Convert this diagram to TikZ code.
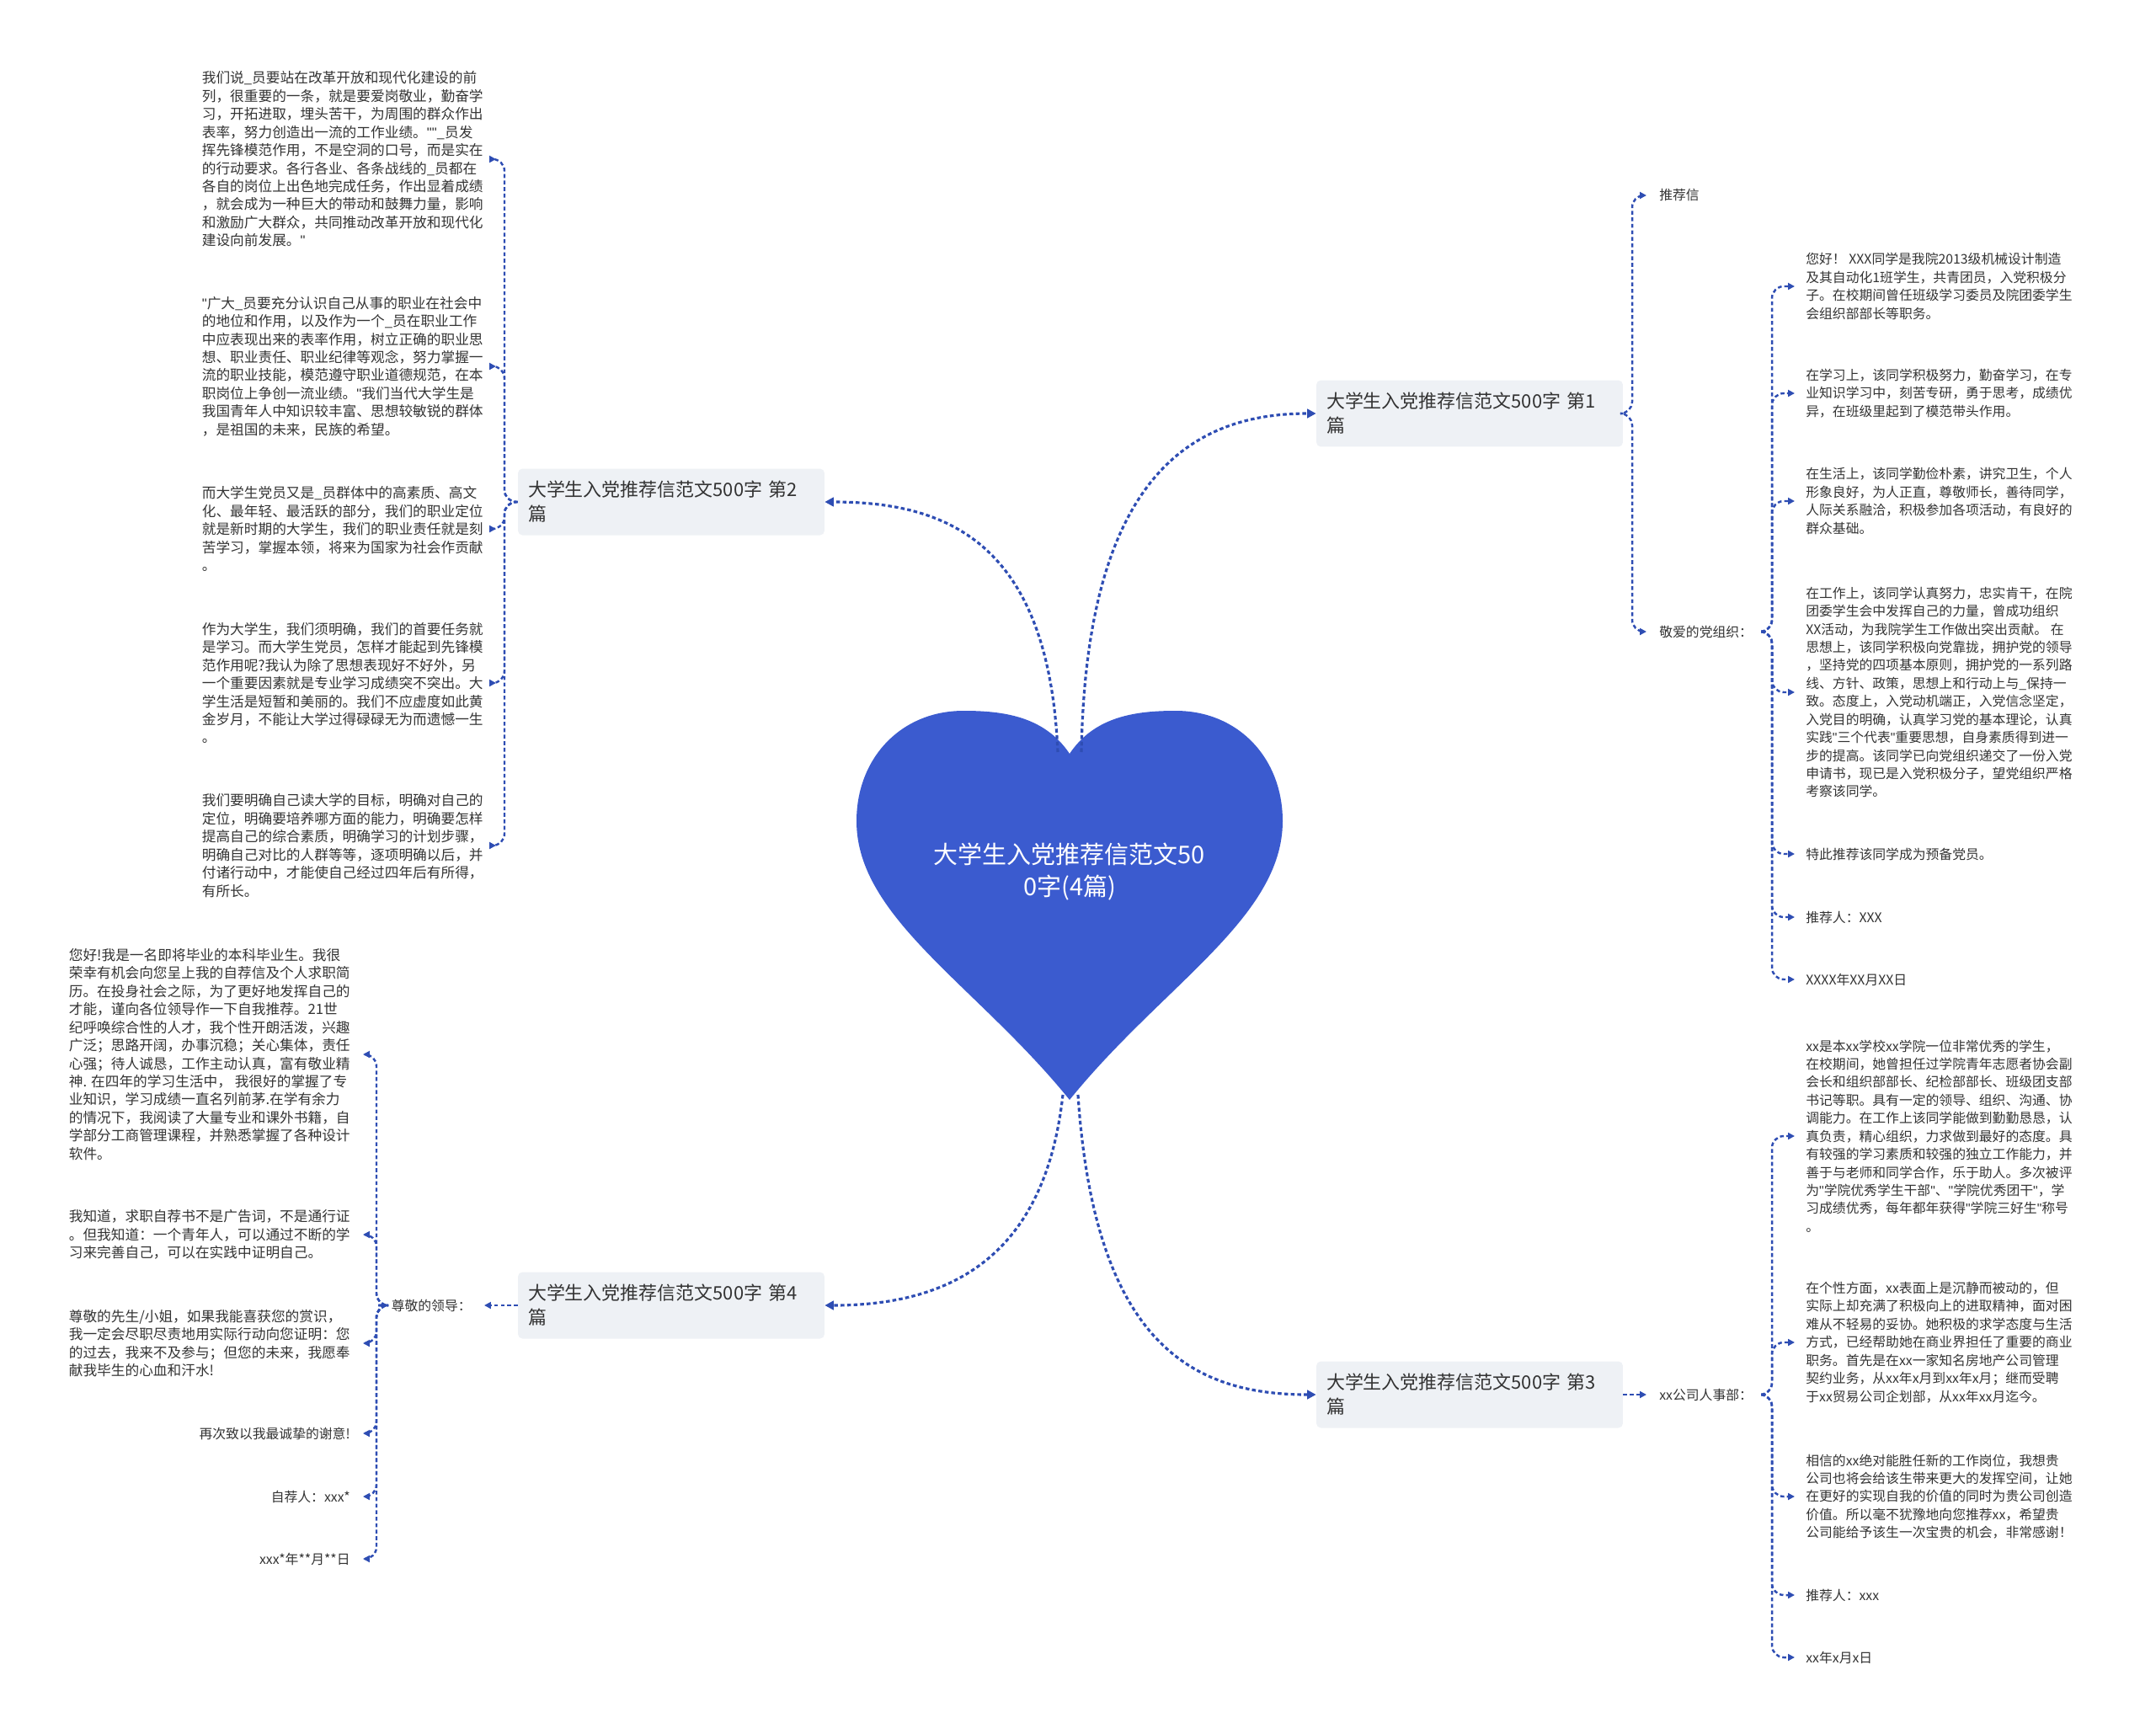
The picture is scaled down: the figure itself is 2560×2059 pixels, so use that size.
\documentclass[tikz,border=0pt]{standalone}
\usepackage{fontspec}
\setmainfont{Noto Sans CJK SC}
\newfontfamily\qfont{Liberation Sans}
\newcommand\dq{{\qfont"}}
\usetikzlibrary{arrows.meta}

\definecolor{heartblue}{HTML}{3B5BCF}
\definecolor{linkblue}{HTML}{2E4DB3}
\definecolor{boxgray}{HTML}{EEF1F5}
\definecolor{txtgray}{HTML}{333333}

\begin{document}
\begin{tikzpicture}[
    x=0.02cm, y=-0.02cm,
    link/.style     = {draw=linkblue, line width=1.4pt, dash pattern=on 2.6pt off 1.8pt,
                       rounded corners=8pt, -{Triangle[length=4.5pt,width=4.5pt]}},
    mainlink/.style = {link, line width=1.8pt, -{Triangle[length=6pt,width=6pt]}},
    branch/.style   = {fill=boxgray, rounded corners=3pt, text width=6.8cm, align=left,
                       minimum height=1.58cm, inner xsep=0.24cm, text=txtgray,
                       font=\fontsize{12.5}{16.5}\selectfont},
    leaf/.style     = {align=left, inner xsep=0.3cm, inner ysep=1pt, text=txtgray,
                       font=\fontsize{9.5}{12.2}\selectfont},
    rleaf/.style    = {leaf, font=\fontsize{9}{12.2}\selectfont},
    sleaf/.style    = {rleaf, inner xsep=0.26cm}
]
\useasboundingbox (0,0) rectangle (2560,2059);

% =========================================================
% HEART (ROOT)
% =========================================================
\fill[heartblue] (1270,895) .. controls (1300,850) and (1350,844) .. (1396,844)
  .. controls (1470,844) and (1523,900) .. (1523,975)
  .. controls (1523,1090) and (1380,1170) .. (1270,1306)
  .. controls (1160,1170) and (1017,1090) .. (1017,975)
  .. controls (1017,900) and (1070,844) .. (1144,844)
  .. controls (1190,844) and (1240,850) .. (1270,895) -- cycle;
\node[text=white, align=center, font=\fontsize{16.5}{22}\selectfont] (root) at (1270,1035)
  {大学生入党推荐信范文50\\0字(4篇)};
\coordinate (hl) at (1256,893);
\coordinate (hr) at (1284,893);
\coordinate (bl) at (1262,1300);
\coordinate (br) at (1280,1300);

% =========================================================
% BRANCHES
% =========================================================
\node[branch] (b1) at (1745,491)  {大学生入党推荐信范文500字 第1\\篇};
\node[branch] (b2) at (797,596)   {大学生入党推荐信范文500字 第2\\篇};
\node[branch] (b3) at (1745,1656) {大学生入党推荐信范文500字 第3\\篇};
\node[branch] (b4) at (797,1550)  {大学生入党推荐信范文500字 第4\\篇};

\draw[mainlink] (hr) .. controls (1290,560) and (1420,491) .. (b1.west);
\draw[mainlink] (hl) .. controls (1245,640) and (1120,596) .. (b2.east);
\draw[mainlink] (br) .. controls (1300,1600) and (1420,1656) .. (b3.west);
\draw[mainlink] (bl) .. controls (1240,1500) and (1120,1550) .. (b4.east);

% =========================================================
% BRANCH 1
% =========================================================
\node[rleaf, anchor=west] (tjx) at (1955,232) {推荐信};
\node[rleaf, anchor=west] (dzz) at (1955,750) {敬爱的党组织：};

\node[sleaf, anchor=west] (r1a) at (2131,340) {您好！ XXX同学是我院2013级机械设计制造\\
及其自动化1班学生，共青团员，入党积极分\\
子。在校期间曾任班级学习委员及院团委学生\\
会组织部部长等职务。};
\node[sleaf, anchor=west] (r1b) at (2131,467) {在学习上，该同学积极努力，勤奋学习，在专\\
业知识学习中，刻苦专研，勇于思考，成绩优\\
异，在班级里起到了模范带头作用。};
\node[sleaf, anchor=west] (r1c) at (2131,595) {在生活上，该同学勤俭朴素，讲究卫生，个人\\
形象良好，为人正直，尊敬师长，善待同学，\\
人际关系融洽，积极参加各项活动，有良好的\\
群众基础。};
\node[sleaf, anchor=west] (r1d) at (2131,822) {在工作上，该同学认真努力，忠实肯干，在院\\
团委学生会中发挥自己的力量，曾成功组织\\
XX活动，为我院学生工作做出突出贡献。 在\\
思想上，该同学积极向党靠拢，拥护党的领导\\
，坚持党的四项基本原则，拥护党的一系列路\\
线、方针、政策，思想上和行动上与\_保持一\\
致。态度上，入党动机端正，入党信念坚定，\\
入党目的明确，认真学习党的基本理论，认真\\
实践\dq{}三个代表\dq{}重要思想，自身素质得到进一\\
步的提高。该同学已向党组织递交了一份入党\\
申请书，现已是入党积极分子，望党组织严格\\
考察该同学。};
\node[sleaf, anchor=west] (r1e) at (2131,1014) {特此推荐该同学成为预备党员。};
\node[sleaf, anchor=west] (r1f) at (2131,1089) {推荐人：XXX};
\node[sleaf, anchor=west] (r1g) at (2131,1163) {XXXX年XX月XX日};

\coordinate (j1) at (1938,491);
\draw[link] (b1.east) -- (j1) |- (tjx.west);
\draw[link] (b1.east) -- (j1) |- (dzz.west);

\coordinate (j1d) at (2104,750);
\draw[link] (dzz.east) -- (j1d) |- (r1a.west);
\draw[link] (dzz.east) -- (j1d) |- (r1b.west);
\draw[link] (dzz.east) -- (j1d) |- (r1c.west);
\draw[link] (dzz.east) -- (j1d) |- (r1d.west);
\draw[link] (dzz.east) -- (j1d) |- (r1e.west);
\draw[link] (dzz.east) -- (j1d) |- (r1f.west);
\draw[link] (dzz.east) -- (j1d) |- (r1g.west);

% =========================================================
% BRANCH 3
% =========================================================
\node[rleaf, anchor=west] (rsb) at (1955,1656) {xx公司人事部：};

\node[sleaf, anchor=west] (r3a) at (2131,1349) {xx是本xx学校xx学院一位非常优秀的学生，\\
在校期间，她曾担任过学院青年志愿者协会副\\
会长和组织部部长、纪检部部长、班级团支部\\
书记等职。具有一定的领导、组织、沟通、协\\
调能力。在工作上该同学能做到勤勤恳恳，认\\
真负责，精心组织，力求做到最好的态度。具\\
有较强的学习素质和较强的独立工作能力，并\\
善于与老师和同学合作，乐于助人。多次被评\\
为\dq{}学院优秀学生干部\dq{}、\dq{}学院优秀团干\dq{}，学\\
习成绩优秀，每年都年获得\dq{}学院三好生\dq{}称号\\
。};
\node[sleaf, anchor=west] (r3b) at (2131,1594) {在个性方面，xx表面上是沉静而被动的，但\\
实际上却充满了积极向上的进取精神，面对困\\
难从不轻易的妥协。她积极的求学态度与生活\\
方式，已经帮助她在商业界担任了重要的商业\\
职务。首先是在xx一家知名房地产公司管理\\
契约业务，从xx年x月到xx年x月；继而受聘\\
于xx贸易公司企划部，从xx年xx月迄今。};
\node[sleaf, anchor=west] (r3c) at (2131,1777) {相信的xx绝对能胜任新的工作岗位，我想贵\\
公司也将会给该生带来更大的发挥空间，让她\\
在更好的实现自我的价值的同时为贵公司创造\\
价值。所以毫不犹豫地向您推荐xx，希望贵\\
公司能给予该生一次宝贵的机会，非常感谢！};
\node[sleaf, anchor=west] (r3d) at (2131,1894) {推荐人：xxx};
\node[sleaf, anchor=west] (r3e) at (2131,1968) {xx年x月x日};

\draw[link] (b3.east) -- (rsb.west);

\coordinate (j3) at (2104,1656);
\draw[link] (rsb.east) -- (j3) |- (r3a.west);
\draw[link] (rsb.east) -- (j3) |- (r3b.west);
\draw[link] (rsb.east) -- (j3) |- (r3c.west);
\draw[link] (rsb.east) -- (j3) |- (r3d.west);
\draw[link] (rsb.east) -- (j3) |- (r3e.west);

% =========================================================
% BRANCH 2
% =========================================================
\node[leaf, anchor=east] (l2a) at (589,189) {我们说\_员要站在改革开放和现代化建设的前\\
列，很重要的一条，就是要爱岗敬业，勤奋学\\
习，开拓进取，埋头苦干，为周围的群众作出\\
表率，努力创造出一流的工作业绩。\dq\dq\_员发\\
挥先锋模范作用，不是空洞的口号，而是实在\\
的行动要求。各行各业、各条战线的\_员都在\\
各自的岗位上出色地完成任务，作出显着成绩\\
，就会成为一种巨大的带动和鼓舞力量，影响\\
和激励广大群众，共同推动改革开放和现代化\\
建设向前发展。\dq};
\node[leaf, anchor=east] (l2b) at (589,435) {\dq{}广大\_员要充分认识自己从事的职业在社会中\\
的地位和作用，以及作为一个\_员在职业工作\\
中应表现出来的表率作用，树立正确的职业思\\
想、职业责任、职业纪律等观念，努力掌握一\\
流的职业技能，模范遵守职业道德规范，在本\\
职岗位上争创一流业绩。\dq{}我们当代大学生是\\
我国青年人中知识较丰富、思想较敏锐的群体\\
，是祖国的未来，民族的希望。};
\node[leaf, anchor=east] (l2c) at (589,628) {而大学生党员又是\_员群体中的高素质、高文\\
化、最年轻、最活跃的部分，我们的职业定位\\
就是新时期的大学生，我们的职业责任就是刻\\
苦学习，掌握本领，将来为国家为社会作贡献\\
。};
\node[leaf, anchor=east] (l2d) at (589,811) {作为大学生，我们须明确，我们的首要任务就\\
是学习。而大学生党员，怎样才能起到先锋模\\
范作用呢?我认为除了思想表现好不好外，另\\
一个重要因素就是专业学习成绩突不突出。大\\
学生活是短暂和美丽的。我们不应虚度如此黄\\
金岁月，不能让大学过得碌碌无为而遗憾一生\\
。};
\node[leaf, anchor=east] (l2e) at (589,1004) {我们要明确自己读大学的目标，明确对自己的\\
定位，明确要培养哪方面的能力，明确要怎样\\
提高自己的综合素质，明确学习的计划步骤，\\
明确自己对比的人群等等，逐项明确以后，并\\
付诸行动中，才能使自己经过四年后有所得，\\
有所长。};

\coordinate (j2) at (599,596);
\draw[link] (b2.west) -- (j2) |- (l2a.east);
\draw[link] (b2.west) -- (j2) |- (l2b.east);
\draw[link] (b2.west) -- (j2) |- (l2c.east);
\draw[link] (b2.west) -- (j2) |- (l2d.east);
\draw[link] (b2.west) -- (j2) |- (l2e.east);

% =========================================================
% BRANCH 4
% =========================================================
\node[rleaf, anchor=east] (zld) at (575,1550) {尊敬的领导：};

\node[leaf, anchor=east] (l4a) at (431,1252) {您好!我是一名即将毕业的本科毕业生。我很\\
荣幸有机会向您呈上我的自荐信及个人求职简\\
历。在投身社会之际，为了更好地发挥自己的\\
才能，谨向各位领导作一下自我推荐。21世\\
纪呼唤综合性的人才，我个性开朗活泼，兴趣\\
广泛；思路开阔，办事沉稳；关心集体，责任\\
心强；待人诚恳，工作主动认真，富有敬业精\\
神. 在四年的学习生活中， 我很好的掌握了专\\
业知识，学习成绩一直名列前茅.在学有余力\\
的情况下，我阅读了大量专业和课外书籍，自\\
学部分工商管理课程，并熟悉掌握了各种设计\\
软件。};
\node[leaf, anchor=east] (l4b) at (431,1466) {我知道，求职自荐书不是广告词，不是通行证\\
。但我知道：一个青年人，可以通过不断的学\\
习来完善自己，可以在实践中证明自己。};
\node[leaf, anchor=east] (l4c) at (431,1595) {尊敬的先生/小姐，如果我能喜获您的赏识，\\
我一定会尽职尽责地用实际行动向您证明：您\\
的过去，我来不及参与；但您的未来，我愿奉\\
献我毕生的心血和汗水!};
\node[rleaf, anchor=east] (l4d) at (431,1702) {再次致以我最诚挚的谢意!};
\node[rleaf, anchor=east] (l4e) at (431,1777) {自荐人：xxx*};
\node[rleaf, anchor=east] (l4f) at (431,1851) {xxx*年**月**日};

\draw[link] (b4.west) -- (zld.east);

\coordinate (j4) at (447,1550);
\draw[link] (zld.west) -- (j4) |- (l4a.east);
\draw[link] (zld.west) -- (j4) |- (l4b.east);
\draw[link] (zld.west) -- (j4) |- (l4c.east);
\draw[link] (zld.west) -- (j4) |- (l4d.east);
\draw[link] (zld.west) -- (j4) |- (l4e.east);
\draw[link] (zld.west) -- (j4) |- (l4f.east);

\end{tikzpicture}
\end{document}
